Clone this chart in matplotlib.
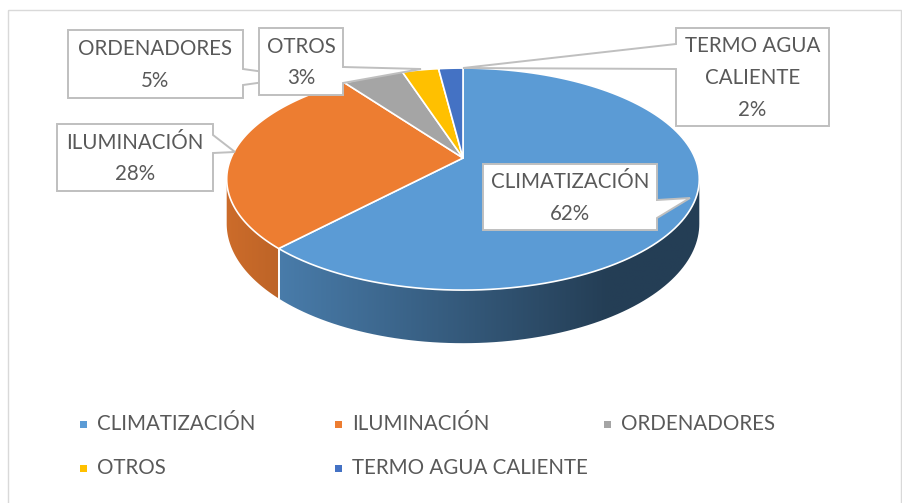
import numpy as np
import matplotlib
matplotlib.use("Agg")
import matplotlib.pyplot as plt
from matplotlib.patches import Polygon, Rectangle
from matplotlib.colors import to_rgb

# Data
categories = ["CLIMATIZACIÓN", "ILUMINACIÓN", "ORDENADORES", "OTROS", "TERMO AGUA CALIENTE"]
label_names = ["CLIMATIZACIÓN", "ILUMINACIÓN", "ORDENADORES", "OTROS", "TERMO AGUA\nCALIENTE"]
values = [62, 28, 5, 3, 2]
colors = ["#5b9bd5", "#ed7d31", "#a5a5a5", "#ffc000", "#4472c4"]

TEXT = "#595959"
FONT = "Lato"
FS = 14.8

# pie projection (pixel space), slight perspective like the Excel 3-D pie
CX, CY = 463.0, 158.0
A, B = 232.0, 107.0
K = 0.19
D = 43.0


def proj(theta_deg, drop=0.0):
    t = np.radians(theta_deg)
    u, v = np.cos(t), np.sin(t)
    s = 1 + K * v
    return CX + A * u / s, CY - B * v / s + drop / s


def shade(x):
    # lighter on the left of the side wall, darker on the right
    return np.clip(0.86 - 0.46 * (x - 228) / 380.0, 0.40, 0.86)


fig = plt.figure(figsize=(9.03, 5.03), dpi=100, facecolor="white")
ax = fig.add_axes([0, 0, 1, 1])
ax.axis("off")

# chart border
ax.add_patch(Rectangle((8, 10), 893, 500, fill=False, edgecolor="#d9d9d9", lw=1.0, zorder=0))

total = float(sum(values))
bounds = []
start = 90.0
for v in values:
    end = start - 360.0 * v / total
    bounds.append((start, end))
    start = end

# visible front part of the side wall
vis_lo = -180.0 + np.degrees(np.arcsin(K))
vis_hi = -np.degrees(np.arcsin(K))

xs = np.linspace(215, 710, 400)
for (a0, a1), col in zip(bounds, colors):
    lo, hi = min(a0, a1), max(a0, a1)
    for off in (0.0, -360.0, 360.0):
        l, h = max(lo + off, vis_lo), min(hi + off, vis_hi)
        if h <= l:
            continue
        ts = np.linspace(l, h, 80)
        top = [proj(t) for t in ts]
        bot = [proj(t, D) for t in ts[::-1]]
        poly = Polygon(top + bot, closed=True, facecolor="none", edgecolor="none", zorder=1)
        ax.add_patch(poly)
        rgb = np.array(to_rgb(col))
        img = (rgb[None, None, :] * shade(xs)[None, :, None])
        im = ax.imshow(img, extent=[xs[0], xs[-1], 360, 150], aspect="auto",
                       interpolation="bilinear", zorder=1)
        im.set_clip_path(poly)
        # white seam at slice boundaries on the side wall
        for t in (l, h):
            if vis_lo + 0.5 < t < vis_hi - 0.5:
                p0, p1 = proj(t), proj(t, D)
                ax.plot([p0[0], p1[0]], [p0[1], p1[1]], color="white", lw=1.2, zorder=1.5)

# top faces
for (a0, a1), col in zip(bounds, colors):
    ts = np.linspace(a0, a1, 120)
    pts = [(CX, CY)] + [proj(t) for t in ts]
    ax.add_patch(Polygon(pts, closed=True, facecolor=col, edgecolor="white",
                         lw=1.2, joinstyle="round", zorder=2))

# callout boxes: box (x0, y0, x1, y1), wedge side, wedge (y0, tip, y1)
callouts = [
    ((483, 164, 657, 230), "right", (200, (690, 198), 218)),
    ((57, 124, 213, 191), "right", (135, (235, 152), 153)),
    ((68, 30, 243, 98), "right", (69, (300, 77), 85)),
    ((259, 28, 343, 95), "right", (67, (421, 69), 83)),
    ((676, 28, 829, 126), "left", (44, (463, 68), 69)),
]
zs = [4, 4, 4, 5, 4]

for name, v, (box, side, (w0, tip, w1)), z in zip(label_names, values, callouts, zs):
    x0, y0, x1, y1 = box
    if side == "right":
        pts = [(x0, y0), (x1, y0), (x1, w0), tip, (x1, w1), (x1, y1), (x0, y1)]
    else:
        pts = [(x0, y0), (x1, y0), (x1, y1), (x0, y1), (x0, w1), tip, (x0, w0)]
    ax.add_patch(Polygon(pts, closed=True, facecolor="white", edgecolor="#bfbfbf",
                         lw=1.4, zorder=z))
    ax.text((x0 + x1) / 2, (y0 + y1) / 2 + 1, f"{name}\n{v}%", ha="center", va="center",
            fontsize=FS, family=FONT, color=TEXT, linespacing=1.72, zorder=z + 0.5)

# legend
leg_pos = [(84, 424), (339, 424), (608, 424), (84, 468), (339, 468)]
for name, col, (lx, ly) in zip(categories, colors, leg_pos):
    ax.add_patch(Rectangle((lx - 3.5, ly - 3.5), 7, 7, facecolor=col, edgecolor="none", zorder=3))
    ax.text(lx + 13, ly, name, ha="left", va="center", fontsize=FS, family=FONT, color=TEXT)

ax.set_xlim(0, 903)
ax.set_ylim(503, 0)

fig.savefig("out.png", dpi=100, facecolor="white")
